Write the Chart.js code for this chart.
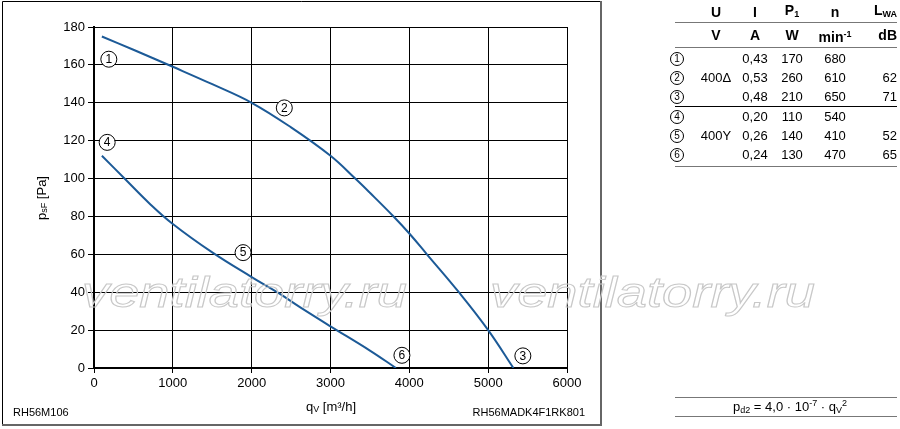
<!DOCTYPE html>
<html>
<head>
<meta charset="utf-8">
<script src="https://cdn.jsdelivr.net/npm/chart.js@4.4.1/dist/chart.umd.min.js"></script>
<style>
  body { margin: 0; background: #fff; }
  #wrap { position: relative; width: 900px; height: 429px; font-family: 'Liberation Sans', Arial, Helvetica, sans-serif; }
  #chart { position: absolute; left: 0; top: 0; }
  .cell { position: absolute; font-size: 13px; line-height: 16px; color: #000; white-space: nowrap; transform: translate(-50%, -50%); }
  .cell.right { transform: translate(-100%, -50%); }
  .cell.bold { font-weight: bold; font-size: 14px; }
  .circ { position: absolute; width: 12px; height: 12px; border: 1px solid #000; border-radius: 50%;
          font-size: 10px; line-height: 12px; text-align: center; transform: translate(-50%, -50%); }
  .rule { position: absolute; left: 675px; width: 222px; height: 0; border-top: 1px solid #777; }
  sub { font-size: 9px; vertical-align: -2px; }
  sup { font-size: 9px; vertical-align: 5px; }
</style>
</head>
<body>
<div id="wrap">
  <canvas id="chart" width="900" height="429"></canvas>
  <div id="table"></div>
</div>
<script>
// === FAN CURVE RH56M ===

// curve 1-3 (400 V delta)
const flowDelta = [100, 500, 1000, 1500, 2000, 2500, 3000, 3314, 3500, 3800, 4000, 4223, 4628, 5000, 5320];
const pressDelta = [175, 168, 159, 149.8, 140, 127, 112, 100, 92.5, 80, 71, 60, 40, 20, 0];

// curve 4-6 (400 V star)
const flowStar = [100, 400, 700, 1000, 1500, 2000, 2343, 2617, 3000, 3500, 3830];
const pressStar = [112, 99.5, 87, 76, 61, 48, 39.5, 32, 22, 9.2, 0];

// operating point markers (number, flow, pressure)
const pointNames = ['1', '2', '3', '4', '5', '6'];
const pointFlow = [188, 2414, 5440, 167, 1891, 3906];
const pointPress = [163, 137.3, 6.4, 119.1, 60.9, 6.7];

// table of motor data
const rowVoltage = ['', '400Δ', '', '', '400Y', ''];
const rowCurrent = ['0,43', '0,53', '0,48', '0,20', '0,26', '0,24'];
const rowPower = ['170', '260', '210', '110', '140', '130'];
const rowSpeed = ['680', '610', '650', '540', '410', '470'];
const rowNoise = ['', '62', '71', '', '52', '65'];

const FONT = "'Liberation Sans', Arial, Helvetica, sans-serif";
const BLUE = '#1c5a97';

document.addEventListener('DOMContentLoaded', function() {
    // --- table on the right ---
    const table = document.getElementById('table');
    const colX = [716, 755, 792, 835, 897];
    const rowY = [59, 78, 97, 117, 136, 155];
    let html = '';

    const headHtml = ['U', 'I', 'P<sub>1</sub>', 'n', 'L<sub>WA</sub>'];
    const unitHtml = ['V', 'A', 'W', 'min<sup>-1</sup>', 'dB'];
    headHtml.forEach((h, i) => {
        html += `<div class="cell bold${i === 4 ? ' right' : ''}" style="left:${colX[i]}px;top:12px">${h}</div>`;
    });
    unitHtml.forEach((h, i) => {
        html += `<div class="cell bold${i === 4 ? ' right' : ''}" style="left:${colX[i]}px;top:35px">${h}</div>`;
    });

    rowY.forEach((y, r) => {
        html += `<div class="circ" style="left:677px;top:${y}px">${pointNames[r]}</div>`;
        const vals = [rowVoltage[r], rowCurrent[r], rowPower[r], rowSpeed[r], rowNoise[r]];
        vals.forEach((v, i) => {
            if (!v) return;
            html += `<div class="cell${i === 4 ? ' right' : ''}" style="left:${colX[i]}px;top:${y}px">${v}</div>`;
        });
    });

    html += '<div class="rule" style="top:22px"></div>';
    html += '<div class="rule" style="top:47px"></div>';
    html += '<div class="rule" style="top:106px;border-color:#000"></div>';
    html += '<div class="rule" style="top:166px"></div>';
    html += '<div class="rule" style="top:397px"></div>';
    html += '<div class="rule" style="top:416px"></div>';
    html += `<div class="cell" style="left:790px;top:406px">p<sub>d2</sub> = 4,0 · 10<sup>-7</sup> · q<sub>V</sub><sup>2</sup></div>`;
    table.innerHTML = html;

    // --- decorations drawn on the canvas ---
    function drawSubText(ctx, parts, x, y) {
        // parts: [text, size, dy]
        let total = 0;
        parts.forEach(p => { ctx.font = `${p[1]}px ${FONT}`; total += ctx.measureText(p[0]).width; });
        let cx = x - total / 2;
        parts.forEach(p => {
            ctx.font = `${p[1]}px ${FONT}`;
            ctx.fillText(p[0], cx, y + p[2]);
            cx += ctx.measureText(p[0]).width;
        });
    }

    const decor = {
        id: 'decor',
        beforeDraw(chart) {
            const ctx = chart.ctx;
            ctx.save();
            ctx.fillStyle = '#fff';
            ctx.fillRect(0, 0, chart.width, chart.height);
            ctx.strokeStyle = '#000';
            ctx.lineWidth = 1;
            ctx.beginPath();
            ctx.moveTo(2.5, 424);
            ctx.lineTo(2.5, 1.5);
            ctx.lineTo(601, 1.5);
            ctx.stroke();
            ctx.strokeStyle = '#666';
            ctx.lineWidth = 2;
            ctx.beginPath();
            ctx.moveTo(601, 1);
            ctx.lineTo(601, 425);
            ctx.lineTo(2, 425);
            ctx.stroke();
            ctx.restore();
        },
        afterDraw(chart) {
            const ctx = chart.ctx;
            const xs = chart.scales.x, ys = chart.scales.y;
            ctx.save();
            ctx.fillStyle = '#000';
            ctx.textBaseline = 'middle';
            ctx.textAlign = 'left';

            // axis titles
            drawSubText(ctx, [['q', 13, 0], ['V', 9, 3], [' [m³/h]', 13, 0]], 331, 407);
            ctx.save();
            ctx.translate(42, 198);
            ctx.rotate(-Math.PI / 2);
            drawSubText(ctx, [['p', 13, 0], ['sF', 9, 3], [' [Pa]', 13, 0]], 0, 0);
            ctx.restore();

            // model codes
            ctx.font = `11px ${FONT}`;
            ctx.fillText('RH56M106', 13, 413);
            ctx.textAlign = 'right';
            ctx.fillText('RH56MADK4F1RK801', 585, 413);

            // circled point numbers
            ctx.textAlign = 'center';
            pointNames.forEach((n, i) => {
                const px = xs.getPixelForValue(pointFlow[i]);
                const py = ys.getPixelForValue(pointPress[i]);
                ctx.beginPath();
                ctx.arc(px, py, 8, 0, Math.PI * 2);
                ctx.fillStyle = '#fff';
                ctx.fill();
                ctx.strokeStyle = '#000';
                ctx.lineWidth = 1;
                ctx.stroke();
                ctx.fillStyle = '#000';
                ctx.font = `12px ${FONT}`;
                ctx.fillText(n, px, py + 0.5);
            });

            // watermark
            ctx.textAlign = 'left';
            ctx.textBaseline = 'alphabetic';
            ctx.strokeStyle = '#c8c8c8';
            ctx.lineWidth = 1;
            ctx.font = `italic 42px ${FONT}`;
            const wm = 'ventilatorry.ru';
            const w = ctx.measureText(wm).width;
            [82, 490].forEach(x0 => {
                ctx.save();
                ctx.translate(x0, 307);
                ctx.scale(325 / w, 1);
                ctx.strokeText(wm, 0, 0);
                ctx.restore();
            });
            ctx.restore();
        }
    };

    const canvas = document.getElementById('chart');
    new Chart(canvas, {
        type: 'line',
        data: {
            datasets: [
                {
                    data: flowDelta.map((f, i) => ({ x: f, y: pressDelta[i] })),
                    borderColor: BLUE,
                    borderWidth: 2,
                    pointRadius: 0,
                    tension: 0.4,
                    fill: false
                },
                {
                    data: flowStar.map((f, i) => ({ x: f, y: pressStar[i] })),
                    borderColor: BLUE,
                    borderWidth: 2,
                    pointRadius: 0,
                    tension: 0.4,
                    fill: false
                }
            ]
        },
        options: {
            responsive: false,
            animation: false,
            devicePixelRatio: 1,
            layout: { padding: { left: 0, top: 27, right: 333, bottom: 0 } },
            scales: {
                x: {
                    type: 'linear',
                    min: 0,
                    max: 6000,
                    afterFit: s => { s.height = 61; },
                    ticks: {
                        stepSize: 1000,
                        color: '#000',
                        padding: 3,
                        maxRotation: 0,
                        font: { family: FONT, size: 13 },
                        callback: v => String(v)
                    },
                    grid: { color: '#000', lineWidth: 1, tickLength: 5 },
                    border: { color: '#000', width: 2 }
                },
                y: {
                    min: 0,
                    max: 180,
                    afterFit: s => { s.width = 94; },
                    ticks: {
                        stepSize: 20,
                        color: '#000',
                        padding: 3,
                        font: { family: FONT, size: 13 },
                        callback: v => String(v)
                    },
                    grid: { color: '#000', lineWidth: 1, tickLength: 6 },
                    border: { color: '#000', width: 2 }
                }
            },
            plugins: {
                legend: { display: false },
                tooltip: { enabled: false }
            }
        },
        plugins: [decor]
    });
});
</script>
</body>
</html>
